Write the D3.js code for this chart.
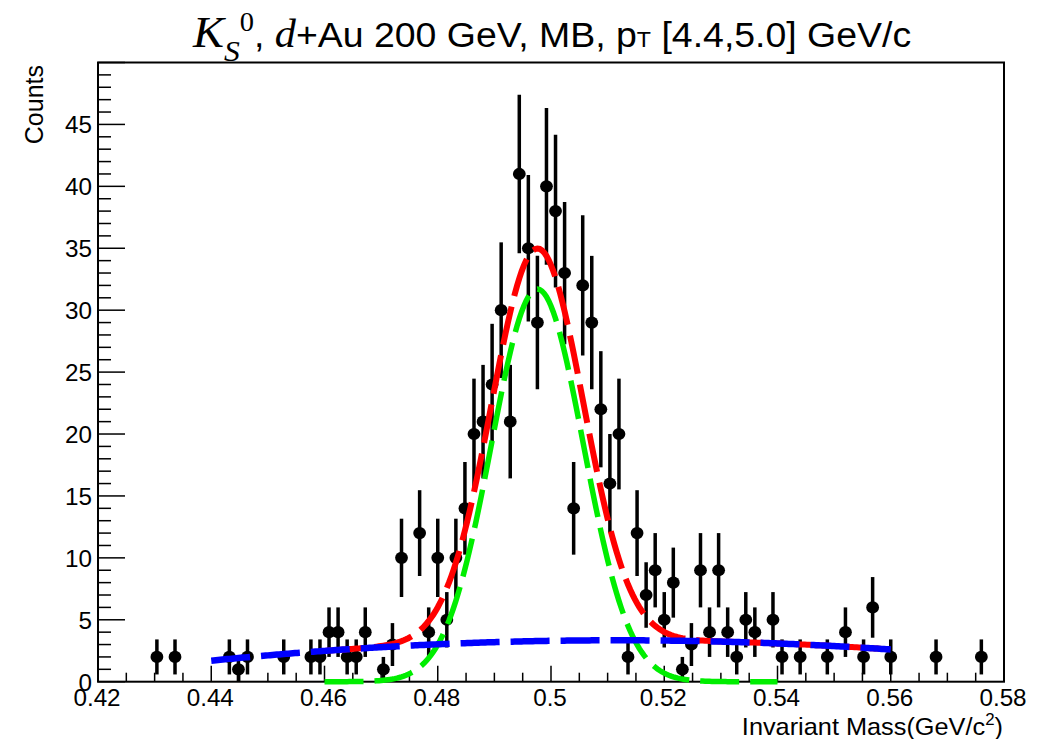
<!DOCTYPE html>
<html>
<head>
<meta charset="utf-8">
<script src="https://cdn.jsdelivr.net/npm/d3@7"></script>
<style>
  body { margin: 0; background: #fff; }
  svg { display: block; }
  text { font-family: "Liberation Sans", Arial, sans-serif; fill: #000; }
</style>
</head>
<body>
<div id="chart"></div>
<script>
// bin centres (GeV/c^2) and counts, empty bins left out
const massBins = [
    0.4304, 0.4336, 0.4432, 0.4448, 0.4464, 0.4528, 0.4576, 0.4592, 0.4608, 0.4624,
    0.4640, 0.4656, 0.4672, 0.4704, 0.4720, 0.4736, 0.4768, 0.4784, 0.4800, 0.4816,
    0.4832, 0.4848, 0.4864, 0.4880, 0.4896, 0.4912, 0.4928, 0.4944, 0.4960, 0.4976,
    0.4992, 0.5008, 0.5024, 0.5040, 0.5056, 0.5072, 0.5088, 0.5104, 0.5120, 0.5136,
    0.5152, 0.5168, 0.5184, 0.5200, 0.5216, 0.5232, 0.5248, 0.5264, 0.5280, 0.5296,
    0.5312, 0.5328, 0.5344, 0.5360, 0.5392, 0.5408, 0.5440, 0.5488, 0.5520, 0.5552,
    0.5568, 0.5600, 0.5680, 0.5760
];
const counts = [
    2, 2, 2, 1, 2, 2, 2, 2, 4, 4,
    2, 2, 4, 1, 3, 10, 12, 4, 10, 5,
    10, 14, 20, 21, 24, 30, 21, 41, 35, 29,
    40, 38, 33, 14, 32, 29, 22, 16, 20, 2,
    12, 7, 9, 5, 8, 1, 3, 9, 4, 9,
    4, 2, 5, 4, 5, 2, 2, 2, 4, 2,
    6, 2, 2, 2
];

// fit results: gaussian signal + pol2 background (in m - 0.5)
const sigAmp = 31.7, sigMean = 0.4976, sigWidth = 0.0081;
const bkgPars = [3.3, 7.5, -319.4];
const bkgRange = [0.44, 0.56], sigRange = [0.46, 0.54], totRange = [0.46, 0.56];

const xTicks = [0.42, 0.44, 0.46, 0.48, 0.5, 0.52, 0.54, 0.56, 0.58];
const yTicks = [0, 5, 10, 15, 20, 25, 30, 35, 40, 45];

const W = 1039, H = 739;
const sx = 1.055; // picture is a bit wider than tall, text too

let svg = d3.select('#chart').append('svg')
    .attr('width', W)
    .attr('height', H);

svg.append('rect').attr('width', W).attr('height', H).attr('fill', '#fff');

let x = d3.scaleLinear().domain([0.42, 0.58]).range([98, 1004]);
let y = d3.scaleLinear().domain([0, 50]).range([681.7, 62.5]);

let sig = m => sigAmp * Math.exp(-0.5 * Math.pow((m - sigMean) / sigWidth, 2));
let bkg = m => bkgPars[0] + bkgPars[1] * (m - 0.5) + bkgPars[2] * (m - 0.5) * (m - 0.5);
let tot = m => sig(m) + bkg(m);

// frame
svg.append('rect')
    .attr('x', x(0.42)).attr('y', y(50))
    .attr('width', x(0.58) - x(0.42)).attr('height', y(0) - y(50))
    .attr('fill', 'none').attr('stroke', '#000').attr('stroke-width', 2);

// ticks, drawn inside the frame like ROOT
let xMinor = d3.range(0, 33).map(i => 0.42 + i * 0.005);
svg.append('g').selectAll('line').data(xMinor).join('line')
    .attr('x1', d => x(d)).attr('x2', d => x(d))
    .attr('y1', y(0)).attr('y2', (d, i) => y(0) - (i % 4 === 0 ? 16 : 9))
    .attr('stroke', '#000').attr('stroke-width', 1.5);

let yMinor = d3.range(0, 51);
svg.append('g').selectAll('line').data(yMinor).join('line')
    .attr('y1', d => y(d)).attr('y2', d => y(d))
    .attr('x1', x(0.42)).attr('x2', d => x(0.42) + (d % 5 === 0 ? 27 : 13))
    .attr('stroke', '#000').attr('stroke-width', 1.5);

// tick labels
svg.append('g').selectAll('text').data(xTicks).join('text')
    .attr('transform', d => `translate(${x(d) - 1},706) scale(${sx},1)`)
    .attr('text-anchor', 'middle')
    .style('font-size', '23px')
    .text(d => d3.format('')(d));

svg.append('g').selectAll('text').data(yTicks).join('text')
    .attr('transform', d => `translate(92,${y(d) + 9}) scale(${sx},1)`)
    .attr('text-anchor', 'end')
    .style('font-size', '23px')
    .text(d => d);

// axis titles
let xt = svg.append('text')
    .attr('transform', `translate(1003,735) scale(${sx},1)`)
    .attr('text-anchor', 'end')
    .style('font-size', '24px');
xt.append('tspan').text('Invariant Mass(GeV/c');
xt.append('tspan').attr('dy', -10).style('font-size', '16px').text('2');
xt.append('tspan').attr('dy', 10).text(')');

svg.append('text')
    .attr('transform', `translate(43,65) rotate(-90) scale(1,${sx})`)
    .attr('text-anchor', 'end')
    .style('font-size', '25px')
    .text('Counts');

// title
let title = svg.append('text')
    .attr('transform', `translate(193,47) scale(${sx},1)`)
    .style('font-size', '35.5px');
title.append('tspan')
    .style('font-family', '"Liberation Serif", serif').style('font-style', 'italic')
    .style('font-size', '44px').text('K');
title.append('tspan').attr('dy', 14)
    .style('font-family', '"Liberation Serif", serif').style('font-style', 'italic')
    .style('font-size', '30px').text('S');
title.append('tspan').attr('dy', -30)
    .style('font-family', '"Liberation Serif", serif')
    .style('font-size', '27px').text('0');
title.append('tspan').attr('dy', 16).text(', ');
title.append('tspan')
    .style('font-family', '"Liberation Serif", serif').style('font-style', 'italic')
    .style('font-size', '40px').text('d');
title.append('tspan').text('+Au 200 GeV, MB, p');
title.append('tspan').style('font-size', '22px').text('T');
title.append('tspan').text(' [4.4,5.0] GeV/c');

// data points with sqrt(N) errors
let pts = svg.append('g');
pts.selectAll('line').data(massBins).join('line')
    .attr('x1', d => x(d)).attr('x2', d => x(d))
    .attr('y1', (d, i) => y(counts[i] + Math.sqrt(counts[i])))
    .attr('y2', (d, i) => y(Math.max(0, counts[i] - Math.sqrt(counts[i]))))
    .attr('stroke', '#000').attr('stroke-width', 3.5);
pts.selectAll('ellipse').data(massBins).join('ellipse')
    .attr('cx', d => x(d)).attr('cy', (d, i) => y(counts[i]))
    .attr('rx', 6.4).attr('ry', 6.1)
    .attr('fill', '#000');

// fit curves
let line = f => d3.line().x(m => x(m)).y(m => y(f(m)));
let sample = r => d3.range(r[0], r[1] + 1e-9, 0.0004);

svg.append('path')
    .datum(sample(totRange))
    .attr('d', line(tot))
    .attr('fill', 'none').attr('stroke', '#ff0000')
    .attr('stroke-width', 6).attr('stroke-dasharray', '39,11');

svg.append('path')
    .datum(sample(sigRange))
    .attr('d', line(sig))
    .attr('fill', 'none').attr('stroke', '#00ee00')
    .attr('stroke-width', 5.5).attr('stroke-dasharray', '39,11');

svg.append('path')
    .datum(sample(bkgRange))
    .attr('d', line(bkg))
    .attr('fill', 'none').attr('stroke', '#0000ff')
    .attr('stroke-width', 6.5).attr('stroke-dasharray', '39,11');
</script>
</body>
</html>
